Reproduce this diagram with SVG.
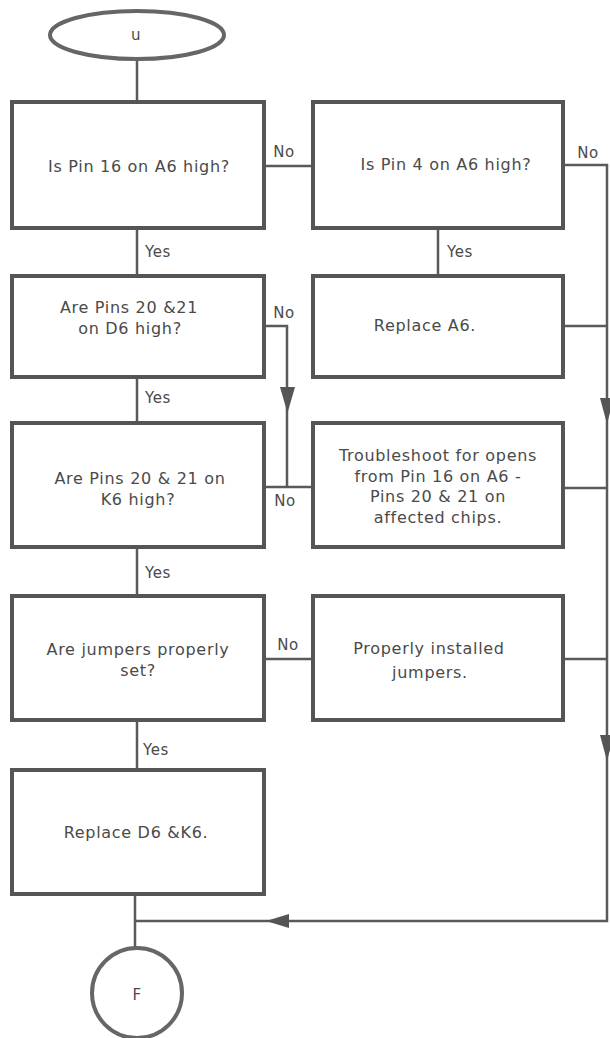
<svg xmlns="http://www.w3.org/2000/svg" width="610" height="1038" viewBox="0 0 610 1038">
<style>
.box{fill:#fff;stroke:#555;stroke-width:4}
.term{fill:#fff;stroke:#666;stroke-width:4}
.ln{fill:none;stroke:#5a5a5a;stroke-width:2.5}
.ah{fill:#555;stroke:none}
text{font-family:"DejaVu Sans","Liberation Sans",sans-serif;font-size:16px;letter-spacing:0.7px;fill:#4a4a4a;text-anchor:middle;dominant-baseline:central}
.lbl{font-size:15px;letter-spacing:0.5px}
.yes{text-anchor:start}
</style>
<rect width="610" height="1038" fill="#fff"/>
<g id="connectors">
<path class="ln" d="M137,59 V102"/>
<path class="ln" d="M264,166 H313"/>
<path class="ln" d="M563,165 H607 V921 H135"/>
<path class="ln" d="M137,228 V276"/>
<path class="ln" d="M438,228 V276"/>
<path class="ln" d="M264,326 H287 V487"/>
<path class="ln" d="M563,326 H607"/>
<path class="ln" d="M137,377 V423"/>
<path class="ln" d="M264,487 H313"/>
<path class="ln" d="M563,488 H607"/>
<path class="ln" d="M137,547 V596"/>
<path class="ln" d="M264,659 H313"/>
<path class="ln" d="M563,659 H607"/>
<path class="ln" d="M137,720 V770"/>
<path class="ln" d="M135,894 V947"/>
<polygon class="ah" points="280,387 295,387 287.5,413"/>
<polygon class="ah" points="600,398 614,398 607,424"/>
<polygon class="ah" points="600,735 614,735 607,761"/>
<polygon class="ah" points="289,914 289,928 266,921"/>
<text class="lbl" x="284" y="152">No</text>
<text class="lbl" x="588" y="153">No</text>
<text class="lbl yes" x="145" y="252">Yes</text>
<text class="lbl yes" x="447" y="252">Yes</text>
<text class="lbl" x="284" y="313">No</text>
<text class="lbl yes" x="145" y="398">Yes</text>
<text class="lbl" x="285" y="501">No</text>
<text class="lbl yes" x="145" y="573">Yes</text>
<text class="lbl" x="288" y="645">No</text>
<text class="lbl yes" x="143" y="750">Yes</text>
</g>
<g id="start">
<ellipse class="term" cx="137" cy="35" rx="87" ry="24"/>
<text class="lbl" x="136" y="35">u</text>
</g>
<g id="q1">
<rect class="box" x="12" y="102" width="252" height="126"/>
<text x="139" y="166">Is Pin 16 on A6 high?</text>
</g>
<g id="q2">
<rect class="box" x="313" y="102" width="250" height="126"/>
<text x="446" y="164">Is Pin 4 on A6 high?</text>
</g>
<g id="q3">
<rect class="box" x="12" y="276" width="252" height="101"/>
<text x="129" y="307">Are Pins 20 &amp;21</text>
<text x="130" y="328">on D6 high?</text>
</g>
<g id="a1">
<rect class="box" x="313" y="276" width="250" height="101"/>
<text x="425" y="325">Replace A6.</text>
</g>
<g id="q4">
<rect class="box" x="12" y="423" width="252" height="124"/>
<text x="140" y="478">Are Pins 20 &amp; 21 on</text>
<text x="138" y="499">K6 high?</text>
</g>
<g id="a2">
<rect class="box" x="313" y="423" width="250" height="124"/>
<text x="438" y="455">Troubleshoot for opens</text>
<text x="438" y="476">from Pin 16 on A6 -</text>
<text x="438" y="496">Pins 20 &amp; 21 on</text>
<text x="438" y="517">affected chips.</text>
</g>
<g id="q5">
<rect class="box" x="12" y="596" width="252" height="124"/>
<text x="138" y="649">Are jumpers properly</text>
<text x="138" y="670">set?</text>
</g>
<g id="a3">
<rect class="box" x="313" y="596" width="250" height="124"/>
<text x="429" y="648">Properly installed</text>
<text x="430" y="672">jumpers.</text>
</g>
<g id="a4">
<rect class="box" x="12" y="770" width="252" height="124"/>
<text x="136" y="832">Replace D6 &amp;K6.</text>
</g>
<g id="end">
<circle class="term" cx="137" cy="993" r="45"/>
<text class="lbl" x="137" y="995">F</text>
</g>
</svg>
